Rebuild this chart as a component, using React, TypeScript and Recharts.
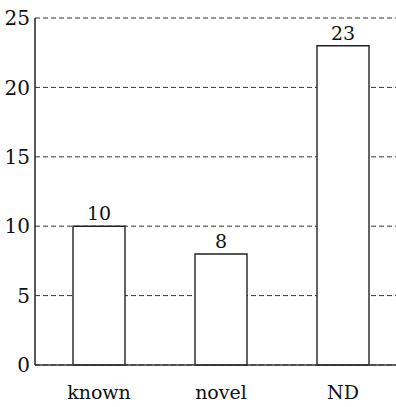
import { BarChart, Bar, XAxis, YAxis, CartesianGrid, LabelList } from "recharts";

const categories = ["known", "novel", "ND"];
const counts = [10, 8, 23];
const yTicks = [0, 5, 10, 15, 20, 25];

const data = categories.map((name, i) => ({ name, count: counts[i] }));

const font = "DejaVu Serif, serif";

export default function App() {
  return (
    <div style={{ position: "absolute", left: 0, top: 0, width: 396, height: 407, overflow: "hidden", background: "#fff", fontFamily: font }}>
      <BarChart width={404} height={407} data={data} margin={{ top: 18, right: 0, left: 0, bottom: 0 }}>
        <CartesianGrid vertical={false} horizontal strokeDasharray="5 3" stroke="#333" strokeWidth={1} />
        <XAxis
          dataKey="name"
          height={42}
          padding={{ left: 3, right: 0 }}
          tickLine={false}
          tickSize={0}
          tickMargin={21}
          axisLine={{ stroke: "#333", strokeWidth: 1.5 }}
          tick={{ fill: "#111", fontSize: 19, fontFamily: font }}
        />
        <YAxis
          width={35}
          domain={[0, 25]}
          ticks={yTicks}
          tickLine={false}
          tickSize={0}
          tickMargin={5}
          axisLine={{ stroke: "#222", strokeWidth: 1.5 }}
          tick={{ fill: "#111", fontSize: 20, fontFamily: font }}
        />
        <Bar dataKey="count" barSize={52} fill="#fff" stroke="#222" strokeWidth={1.4} isAnimationActive={false}>
          <LabelList dataKey="count" position="top" offset={6} fill="#111" fontSize={19} fontFamily={font} />
        </Bar>
      </BarChart>
    </div>
  );
}
